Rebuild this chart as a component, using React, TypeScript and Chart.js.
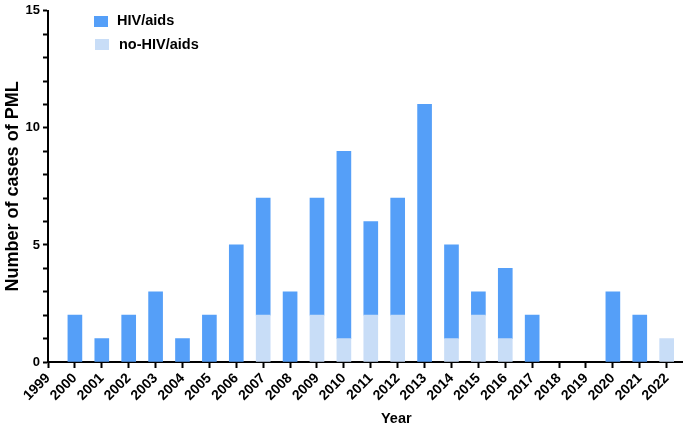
import React, { useEffect, useRef } from "react";
import { Chart, registerables } from "chart.js";

Chart.register(...registerables);

const years = [1999, 2000, 2001, 2002, 2003, 2004, 2005, 2006, 2007, 2008, 2009, 2010, 2011, 2012, 2013, 2014, 2015, 2016, 2017, 2018, 2019, 2020, 2021, 2022];
const hivCases = [0, 2, 1, 2, 3, 1, 2, 5, 5, 3, 5, 8, 4, 5, 11, 4, 1, 3, 2, 0, 0, 3, 2, 0];
const nonHivCases = [0, 0, 0, 0, 0, 0, 0, 0, 2, 0, 2, 1, 2, 2, 0, 1, 2, 1, 0, 0, 0, 0, 0, 1];
const seriesNames = ["HIV/aids", "no-HIV/aids"];
const seriesColors = ["#559FF8", "#C8DDF7"];
const yTitle = "Number of cases of PML";
const xTitle = "Year";

export default function App() {
  const ref = useRef<HTMLCanvasElement | null>(null);
  useEffect(() => {
    if (!ref.current) return;
    const chart = new Chart(ref.current, {
      type: "bar",
      data: {
        datasets: [
          {
            label: seriesNames[1],
            data: years.map((x, i) => ({ x, y: nonHivCases[i] === 0 ? null : nonHivCases[i] })),
            backgroundColor: seriesColors[1],
            barThickness: 14,
          },
          {
            label: seriesNames[0],
            data: years.map((x, i) => ({ x, y: hivCases[i] === 0 ? null : hivCases[i] })),
            backgroundColor: seriesColors[0],
            barThickness: 14,
          },
        ],
      },
      options: {
        animation: false,
        responsive: true,
        maintainAspectRatio: false,
        layout: { padding: { top: 8, right: 3, left: 0, bottom: 0 } },
        plugins: { legend: { display: false }, tooltip: { enabled: false } },
        scales: {
          x: {
            type: "linear",
            stacked: true,
            min: 1999,
            max: 2022.57,
            offset: false,
            grid: {
              offset: false,
              drawOnChartArea: false,
              drawTicks: true,
              tickLength: 6,
              tickWidth: 2,
              tickColor: "#000",
            },
            border: { display: true, color: "#000", width: 2 },
            ticks: {
              stepSize: 1,
              includeBounds: false,
              autoSkip: false,
              maxRotation: 45,
              minRotation: 45,
              padding: 2,
              color: "#000",
              font: { family: "Liberation Sans, Arial, sans-serif", size: 14, weight: "bold" },
              callback: (v: any) => (Number.isInteger(v) ? String(v) : ""),
            },
            afterFit: (s: any) => {
              s.height = 69;
            },
          },
          y: {
            stacked: true,
            min: 0,
            max: 15,
            grid: {
              drawOnChartArea: false,
              drawTicks: true,
              tickLength: 5,
              tickWidth: 2,
              tickColor: "#000",
            },
            border: { display: true, color: "#000", width: 2 },
            ticks: {
              stepSize: 1,
              autoSkip: false,
              color: "#000",
              padding: 3,
              font: { family: "Liberation Sans, Arial, sans-serif", size: 13, weight: "bold" },
              callback: (v: any) => (v % 5 === 0 ? String(v) : ""),
            },
            title: {
              display: true,
              text: yTitle,
              color: "#000",
              padding: { top: 2, bottom: 0 },
              font: { family: "Liberation Sans, Arial, sans-serif", size: 18, weight: "bold" },
            },
            afterFit: (s: any) => {
              s.width = 48;
            },
          },
        },
      },
    });
    return () => chart.destroy();
  }, []);

  const font = "'Liberation Sans', Arial, sans-serif";
  return (
    <div style={{ position: "absolute", left: 0, top: 0, width: 685, height: 431, background: "#fff" }}>
      <canvas ref={ref} />
      <div style={{ position: "absolute", left: 94, top: 16, width: 14, height: 11, background: seriesColors[0] }} />
      <div style={{ position: "absolute", left: 95, top: 39, width: 14, height: 11, background: seriesColors[1] }} />
      <div style={{ position: "absolute", left: 117, top: 13, font: `bold 14.5px ${font}`, lineHeight: "15px", color: "#000", whiteSpace: "nowrap" }}>
        {seriesNames[0]}
      </div>
      <div style={{ position: "absolute", left: 119, top: 37, font: `bold 14.5px ${font}`, lineHeight: "15px", color: "#000", whiteSpace: "nowrap" }}>
        {seriesNames[1]}
      </div>
      <div style={{ position: "absolute", left: 381, top: 410, font: `bold 14.5px ${font}`, lineHeight: "16px", color: "#000", whiteSpace: "nowrap" }}>
        {xTitle}
      </div>
    </div>
  );
}
